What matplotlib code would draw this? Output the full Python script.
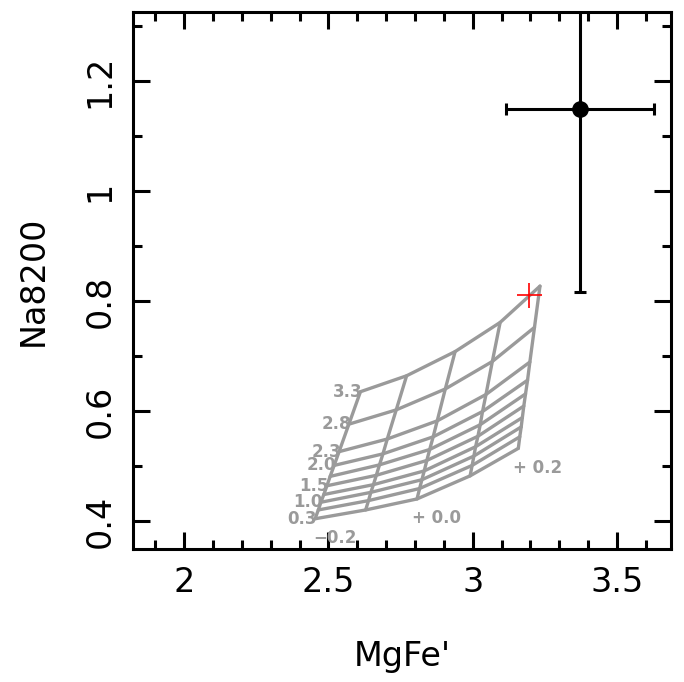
import numpy as np
import matplotlib
matplotlib.use("Agg")
import matplotlib.pyplot as plt
from matplotlib.ticker import MultipleLocator, FuncFormatter

# Model grid: IMF slope (rows) x metallicity (columns)
imf_slopes = [0.3, 0.8, 1.0, 1.3, 1.5, 1.8, 2.0, 2.3, 2.8, 3.3]
metallicity = [-0.2, -0.1, 0.0, 0.1, 0.2]

mgfe_grid = np.array([
    [2.454, 2.629, 2.807, 2.991, 3.158],
    [2.465, 2.639, 2.816, 2.998, 3.163],
    [2.474, 2.647, 2.824, 3.004, 3.168],
    [2.484, 2.656, 2.832, 3.010, 3.172],
    [2.495, 2.666, 2.841, 3.018, 3.177],
    [2.506, 2.677, 2.851, 3.026, 3.183],
    [2.520, 2.689, 2.863, 3.034, 3.190],
    [2.537, 2.704, 2.877, 3.046, 3.198],
    [2.571, 2.735, 2.905, 3.068, 3.214],
    [2.611, 2.771, 2.939, 3.095, 3.233],
])

na8200_grid = np.array([
    [0.404, 0.420, 0.440, 0.482, 0.532],
    [0.420, 0.437, 0.459, 0.501, 0.553],
    [0.434, 0.452, 0.475, 0.518, 0.571],
    [0.448, 0.466, 0.491, 0.535, 0.588],
    [0.464, 0.483, 0.510, 0.554, 0.609],
    [0.481, 0.502, 0.530, 0.575, 0.631],
    [0.501, 0.522, 0.553, 0.599, 0.656],
    [0.526, 0.549, 0.582, 0.630, 0.689],
    [0.576, 0.602, 0.640, 0.690, 0.752],
    [0.635, 0.664, 0.708, 0.761, 0.827],
])

imf_labels = {0.3: "0.3", 1.0: "1.0", 1.5: "1.5", 2.0: "2.0",
              2.3: "2.3", 2.8: "2.8", 3.3: "3.3"}
metal_labels = {-0.2: "\u22120.2", 0.0: "+ 0.0", 0.2: "+ 0.2"}

# Observed measurement
obs_mgfe = 3.372
obs_na = 1.149
obs_mgfe_err = 0.255
obs_na_err = 0.333

# Reference model point
ref_mgfe = 3.195
ref_na = 0.811

grey = "#9a9a9a"

fig = plt.figure(figsize=(6.84, 6.82), dpi=100)
ax = fig.add_axes([133 / 684, 1 - 549 / 682, 538 / 684, 537 / 682])

# grid lines of constant IMF slope
for i in range(len(imf_slopes)):
    ax.plot(mgfe_grid[i], na8200_grid[i], color=grey, lw=2.4,
            solid_capstyle="round", solid_joinstyle="round", zorder=2)
# grid lines of constant metallicity
for j in range(len(metallicity)):
    ax.plot(mgfe_grid[:, j], na8200_grid[:, j], color=grey, lw=2.4,
            solid_capstyle="round", solid_joinstyle="round", zorder=2)

for i, s in enumerate(imf_slopes):
    if s in imf_labels:
        ax.annotate(imf_labels[s], (mgfe_grid[i, 0], na8200_grid[i, 0]),
                    xytext=(1.5, 0), textcoords="offset points",
                    ha="right", va="center", color=grey,
                    fontsize=12, fontweight="bold", zorder=3)

for j, z in enumerate(metallicity):
    if z in metal_labels:
        ax.annotate(metal_labels[z], (mgfe_grid[0, j], na8200_grid[0, j]),
                    xytext=(14, -14), textcoords="offset points",
                    ha="center", va="center", color=grey,
                    fontsize=12, fontweight="bold", zorder=3)

ax.plot(ref_mgfe, ref_na, marker="+", color="red", markersize=18,
        markeredgewidth=1.2, zorder=4)

ax.errorbar(obs_mgfe, obs_na, xerr=obs_mgfe_err, yerr=obs_na_err,
            fmt="o", color="black", markersize=11, elinewidth=2.2,
            capsize=4.5, capthick=2.2, zorder=5)

ax.set_xlim(1.823, 3.687)
ax.set_ylim(0.349, 1.3255)

ax.xaxis.set_major_locator(MultipleLocator(0.5))
ax.xaxis.set_minor_locator(MultipleLocator(0.1))
ax.yaxis.set_major_locator(MultipleLocator(0.2))
ax.yaxis.set_minor_locator(MultipleLocator(0.1))
ax.xaxis.set_major_formatter(FuncFormatter(lambda v, p: f"{v:g}"))
ax.yaxis.set_major_formatter(FuncFormatter(lambda v, p: f"{v:g}"))

ax.tick_params(which="both", direction="in", top=True, right=True,
               width=2.2, labelsize=24, colors="black")
ax.tick_params(which="major", length=12.5, pad=12)
ax.tick_params(which="minor", length=6.5)
ax.tick_params(axis="y", labelrotation=90)
for lab in ax.get_yticklabels():
    lab.set_va("center")

for sp in ax.spines.values():
    sp.set_linewidth(2.2)

ax.set_xlabel("MgFe'", fontsize=24, labelpad=30)
ax.set_ylabel("Na8200", fontsize=24, labelpad=24)

fig.savefig("out.png", dpi=100)
